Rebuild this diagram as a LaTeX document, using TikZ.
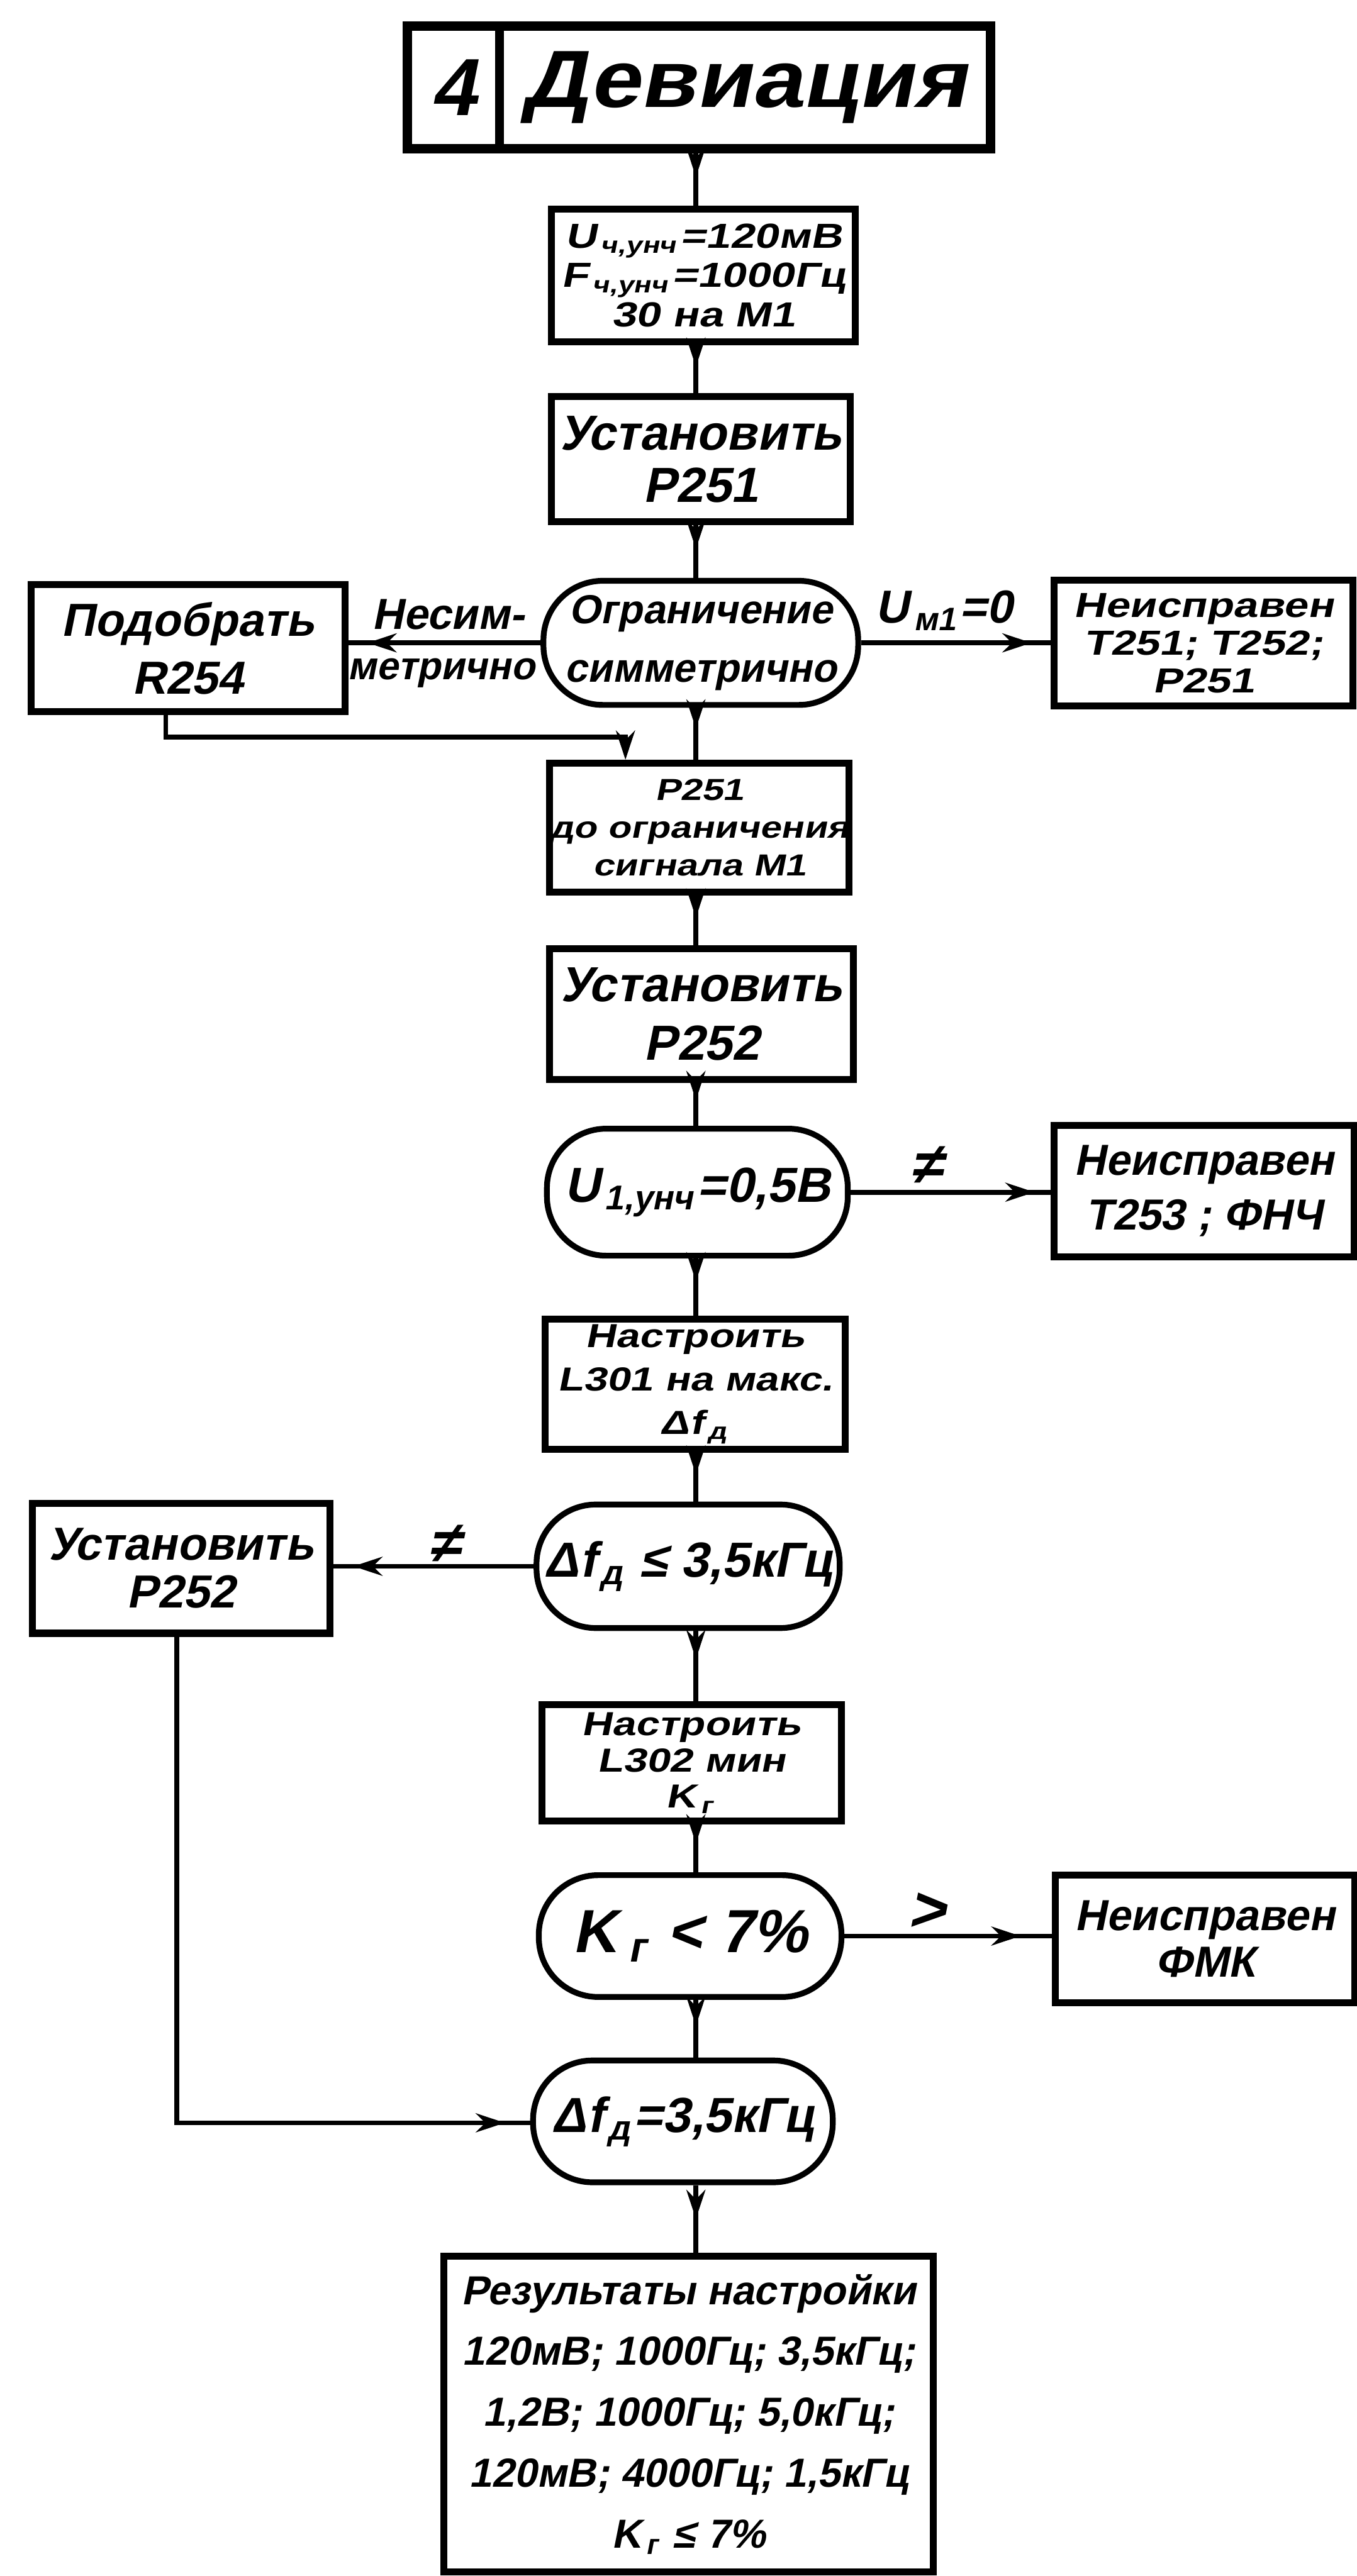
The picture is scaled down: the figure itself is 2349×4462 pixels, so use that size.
\documentclass[tikz,border=0pt]{standalone}
\usepackage{fontspec}
\setmainfont{Liberation Sans}[FakeSlant=0.2]
\newfontfamily\handw{Liberation Sans}[FakeSlant=0.2,FakeStretch=1.25]
\newfontfamily\handt{Liberation Sans}[FakeSlant=0.2,FakeStretch=1.12]
\usetikzlibrary{arrows.meta,decorations.markings}
\newcommand{\fs}[2]{\fontsize{#1}{#2}\selectfont\bfseries}
\newcommand{\subx}[1]{\kern1.5pt\relax\textsubscript{#1}\kern1pt\relax}
\begin{document}
\begin{tikzpicture}[x=0.007cm,y=-0.007cm,
  box/.style={draw, line width=2.4pt, inner sep=0pt, align=center},
  term/.style={draw, line width=2pt, rounded corners=0.72cm, inner sep=0pt, align=center},
  wh/.style 2 args={minimum width=#1*0.007cm, minimum height=#2*0.007cm},
  conn/.style={line width=1.7pt},
  arr/.style={postaction={decorate}, decoration={markings, mark=at position #1 with {\arrow{Stealth[length=10pt,width=6.5pt]}}}},
  lbl/.style={inner sep=0pt}
]
\fill[white] (0,0) rectangle (2349,4462);
\useasboundingbox (0,0) rectangle (2349,4462);
\coordinate (col) at (1205,0);
% title
\node[box, line width=3.2pt, wh={160}{213}, font=\fs{28}{28}] (t4) at (785,151.5) {4};
\node[box, line width=3.2pt, wh={850}{213}, font=\handt\fs{28}{28}] (tdev) at (1290,151.5) {Девиация};
% centre column
\node[box, wh={526}{230}, font=\handw\fs{12}{13.5}] (b2) at (1218,477) {U\subx{ч,унч}=120мВ\\F\subx{ч,унч}=1000Гц\\30 на M1};
\node[box, wh={517}{217}, font=\fs{17}{18}] (b3) at (1213.5,795.5) {Установить\\P251};
\node[term, wh={545}{215}, font=\fs{14}{20}] (d1) at (1213.5,1113.5) {Ограничение\\симметрично};
\node[box, wh={543}{220}, font=\fs{16}{20}] (podob) at (325.5,1123) {Подобрать\\R254};
\node[box, wh={518}{218}, font=\handw\fs{12}{13}] (n1) at (2084,1114) {Неисправен\\T251; T252;\\P251};
\node[box, wh={516}{223}, font=\handw\fs{10.5}{13}] (b4) at (1211,1433.5) {P251\\до ограничения\\сигнала M1};
\node[box, wh={526}{227}, font=\fs{17}{20}] (b5) at (1215,1756.5) {Установить\\P252};
\node[term, wh={521}{220}, font=\fs{17}{17}] (d2) at (1207.5,2065) {U\subx{1,унч}=0,5В};
\node[box, wh={520}{228}, font=\fs{15}{19}] (n2) at (2085,2063) {Неисправен\\T253 ; ФНЧ};
\node[box, wh={520}{225}, font=\handw\fs{11.5}{15}] (b6) at (1204,2397.5) {Настроить\\L301 на макс.\\Δf\subx{д}};
\node[term, wh={525}{214}, font=\fs{17}{17}] (d3) at (1191.5,2713) {Δf\subx{д} ≤ 3,5кГц};
\node[box, wh={515}{225}, font=\fs{16}{16.5}] (ust) at (313.5,2716.5) {Установить\\P252};
\node[box, wh={519}{201}, font=\handw\fs{11.5}{12.5}] (b7) at (1197.5,3053.5) {Настроить\\L302 мин\\K\subx{г}};
\node[term, wh={524}{211}, font=\fs{21}{21}] (d4) at (1195,3353.5) {K\kern2.5pt\subx{г} < 7\%};
\node[box, wh={519}{221}, font=\fs{15}{16}] (n4) at (2086.5,3358.5) {Неисправен\\ФМК};
\node[term, wh={519}{211}, font=\fs{17}{17}] (d5) at (1182.5,3674.5) {Δf\subx{д}=3,5кГц};
\node[box, wh={847}{547}, font=\fs{14}{21}] (fin) at (1192.5,4181.5) {Результаты настройки\\120мВ; 1000Гц; 3,5кГц;\\1,2В; 1000Гц; 5,0кГц;\\120мВ; 4000Гц; 1,5кГц\\K\subx{г} ≤ 7\%};
% labels
\node[lbl, font=\fs{15}{15}] (lab1) at (776,1064) {Несим-};
\node[lbl, font=\fs{13.5}{13.5}] (lab2) at (764,1166) {метрично};
\node[lbl, font=\fs{16}{16}] (lab3) at (1635,1057) {U\subx{м1}=0};
\node[lbl, font=\fs{20}{20}, anchor=south] (lab4) at (1604,2052) {≠};
\node[lbl, font=\fs{20}{20}, anchor=south] (lab5) at (770,2708) {≠};
\node[lbl, font=\fs{22}{22}] (lab6) at (1605,3312) {>};
% vertical connectors
\draw[conn,arr=0.45] (tdev.south -| col) -- (b2.north -| col);
\draw[conn,arr=0.45] (b2.south -| col) -- (b3.north -| col);
\draw[conn,arr=0.45] (b3.south -| col) -- (d1.north -| col);
\draw[conn,arr=0.4] (d1.south -| col) -- (b4.north -| col);
\draw[conn,arr=0.45] (b4.south -| col) -- (b5.north -| col);
\draw[conn,arr=0.4] (b5.south -| col) -- (d2.north -| col);
\draw[conn,arr=0.4] (d2.south -| col) -- (b6.north -| col);
\draw[conn,arr=0.45] (b6.south -| col) -- (d3.north -| col);
\draw[conn,arr=0.4] (d3.south -| col) -- (b7.north -| col);
\draw[conn,arr=0.4] (b7.south -| col) -- (d4.north -| col);
\draw[conn,arr=0.45] (d4.south -| col) -- (d5.north -| col);
\draw[conn,arr=0.5] (d5.south -| col) -- (fin.north -| col);
% side connectors
\draw[conn,arr=0.9] (d1.west) -- (d1.west -| podob.east);
\draw[conn,arr=0.9] (d1.east) -- (d1.east -| n1.west);
\draw[conn,arr=0.92] (d2.east) -- (d2.east -| n2.west);
\draw[conn,arr=0.9] (d3.west) -- (d3.west -| ust.east);
\draw[conn,arr=0.85] (d4.east) -- (d4.east -| n4.west);
% loops
\coordinate (l1) at (287,1277);
\coordinate (b4in) at (1083,0);
\draw[conn,-{Stealth[length=10pt,width=6.5pt]}] (podob.south -| l1) -- (l1) -- (l1 -| b4in) -- (b4.north -| b4in);
\coordinate (l2) at (306,3677);
\draw[conn,arr=0.97] (ust.south -| l2) -- (l2) -- (l2 -| d5.west);
\end{tikzpicture}
\end{document}
